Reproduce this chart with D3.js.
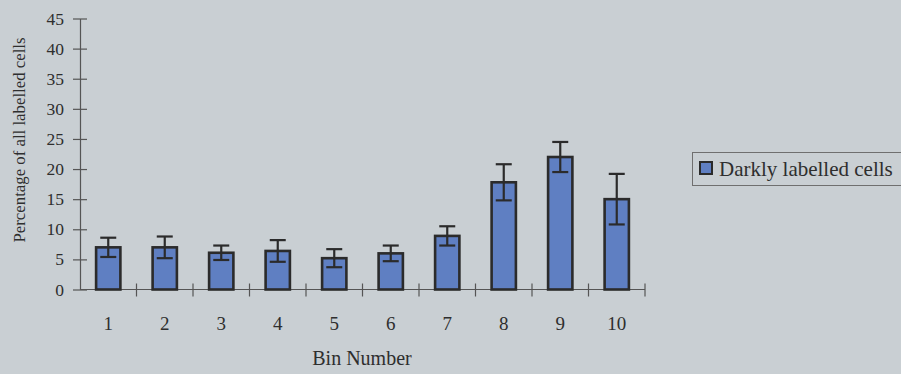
<!DOCTYPE html>
<html>
<head>
<meta charset="utf-8">
<script src="https://cdn.jsdelivr.net/npm/d3@7/dist/d3.min.js"></script>
<style>
  html, body { margin: 0; padding: 0; background: #c9cfd3; }
  svg { display: block; }
  text { font-family: "Liberation Serif", "Times New Roman", serif; fill: #2e2e2e; }
</style>
</head>
<body>
<svg id="chart" width="901" height="374"></svg>
<script>
// Bin numbers and the share of darkly labelled cells in each bin (mean ± error)
const bins = ["1", "2", "3", "4", "5", "6", "7", "8", "9", "10"];
const darkPercent = [7.0, 7.0, 6.1, 6.4, 5.2, 6.0, 8.9, 17.8, 22.0, 15.0];
const darkError = [1.6, 1.8, 1.2, 1.8, 1.5, 1.3, 1.6, 3.0, 2.5, 4.2];
const yTicks = [0, 5, 10, 15, 20, 25, 30, 35, 40, 45];
const seriesName = "Darkly labelled cells";

const svg = d3.select("#chart");
const ink = "#2b2b2b";
const barFill = "#5f7fc2";

const x = d3.scaleBand().domain(bins).range([80, 645])
  .paddingInner(0.57).paddingOuter(0.285);
const y = d3.scaleLinear().domain([0, 45]).range([289.5, 18.5]);

// Y axis: ticks cross the axis line
const yAxis = svg.append("g").attr("transform", "translate(80,0)")
  .call(d3.axisLeft(y).tickValues(yTicks).tickSize(7).tickPadding(6).tickSizeOuter(0));
yAxis.select(".domain").attr("stroke", "#555").attr("stroke-width", 1.2);
yAxis.selectAll(".tick line").attr("stroke", "#555").attr("stroke-width", 1.2).attr("x2", 7).attr("x1", -7);
yAxis.selectAll(".tick text").attr("font-size", 17.5).attr("fill", "#333").attr("x", -16)
  .attr("font-family", "Liberation Serif, serif");

// X axis with category boundary ticks
const step = x.step();
const xAxisG = svg.append("g");
xAxisG.append("line").attr("x1", 80).attr("x2", 645).attr("y1", y(0)).attr("y2", y(0))
  .attr("stroke", "#555").attr("stroke-width", 1.2);
xAxisG.selectAll("line.bound").data(bins).enter().append("line").attr("class", "bound")
  .attr("x1", (d, i) => 80 + (i + 1) * step).attr("x2", (d, i) => 80 + (i + 1) * step)
  .attr("y1", y(0) - 6).attr("y2", y(0) + 7)
  .attr("stroke", "#555").attr("stroke-width", 1.2);
xAxisG.selectAll("text").data(bins).enter().append("text")
  .attr("x", d => x(d) + x.bandwidth() / 2).attr("y", 330)
  .attr("text-anchor", "middle").attr("font-size", 19).text(d => d);

// Bars
svg.append("g").selectAll("rect").data(bins).enter().append("rect")
  .attr("x", d => x(d)).attr("width", x.bandwidth())
  .attr("y", (d, i) => y(darkPercent[i]))
  .attr("height", (d, i) => y(0) - y(darkPercent[i]))
  .attr("fill", barFill).attr("stroke", ink).attr("stroke-width", 2.6);

// Error bars
const eb = svg.append("g").attr("stroke", ink).attr("stroke-width", 2.2);
bins.forEach((d, i) => {
  const cx = x(d) + x.bandwidth() / 2;
  const hi = y(darkPercent[i] + darkError[i]);
  const lo = y(darkPercent[i] - darkError[i]);
  eb.append("line").attr("x1", cx).attr("x2", cx).attr("y1", hi).attr("y2", lo);
  eb.append("line").attr("x1", cx - 8).attr("x2", cx + 8).attr("y1", hi).attr("y2", hi);
  eb.append("line").attr("x1", cx - 8).attr("x2", cx + 8).attr("y1", lo).attr("y2", lo);
});

// Axis titles
svg.append("text").attr("x", 362).attr("y", 365).attr("text-anchor", "middle")
  .attr("font-size", 20).text("Bin Number");
svg.append("text").attr("transform", "translate(25,140) rotate(-90)")
  .attr("text-anchor", "middle").attr("font-size", 16.8).text("Percentage of all labelled cells");

// Legend
const lg = svg.append("g");
lg.append("rect").attr("x", 692.5).attr("y", 152.5).attr("width", 215).attr("height", 33)
  .attr("fill", "none").attr("stroke", "#6f6f6f").attr("stroke-width", 1);
lg.append("rect").attr("x", 700).attr("y", 162).attr("width", 12).attr("height", 12)
  .attr("fill", barFill).attr("stroke", ink).attr("stroke-width", 2);
lg.append("text").attr("x", 719).attr("y", 176).attr("font-size", 21).text(seriesName);
</script>
</body>
</html>
